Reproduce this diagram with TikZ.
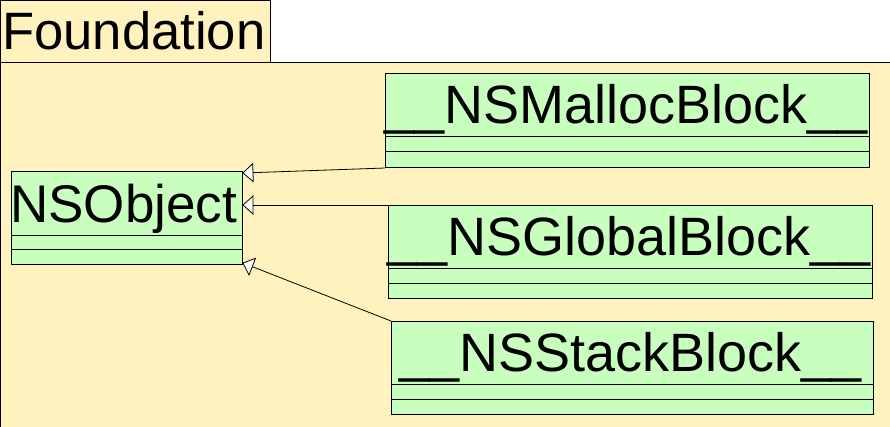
\documentclass[tikz,border=0pt]{standalone}
\usepackage{fontspec}
\setmainfont{Liberation Sans}
\usetikzlibrary{calc}
\definecolor{pkgfill}{RGB}{255,242,190}
\definecolor{clsfill}{RGB}{200,255,190}
\tikzset{
  pkg/.style={draw=black, fill=pkgfill, line width=1pt},
  cls/.style={draw=black, fill=clsfill, line width=1pt, rectangle, inner sep=0pt, anchor=north west},
  clsname/.style={anchor=base west, inner sep=0pt, font=\fontsize{54}{54}\selectfont},
  gen/.style={line width=0.8pt},
  genhead/.style={line width=0.8pt, fill=white, line join=miter},
  comp/.style={line width=1pt}
}
\newcommand{\genarrow}[2]{%
  \draw[gen] (#1) -- (#2);
  \filldraw[genhead] let \p1=($(#1)-(#2)$), \n1={atan2(\y1,\x1)} in
    (#2) -- ($(#2)+(\n1+42:13.45pt)$) -- ($(#2)+(\n1-42:13.45pt)$) -- cycle;
}
\begin{document}
\begin{tikzpicture}[x=1pt, y=-1pt]
\useasboundingbox (0,0) rectangle (890,426);
% package tab and body
\path[pkg] (0.5,0.5) rectangle (270,62);
\path[pkg] (0.5,62) rectangle (892,428);
\node[clsname, font=\fontsize{52.6}{52.6}\selectfont] (pkgname) at (2,49) {Foundation};
% classes
\node[cls, minimum width=231pt, minimum height=93pt] (obj) at (11,171) {};
\node[clsname, font=\fontsize{53}{53}\selectfont] (objname) at (10,222) {NSObject};
\draw[comp] (obj.west |- 0,235) -- (obj.east |- 0,235);
\draw[comp] (obj.west |- 0,249) -- (obj.east |- 0,249);

\node[cls, minimum width=484pt, minimum height=94pt] (malloc) at (385,73) {};
\node[clsname] (mallocname) at (384,123) {\_\_NSMallocBlock\_\_};
\draw[comp] (malloc.west |- 0,136) -- (malloc.east |- 0,136);
\draw[comp] (malloc.west |- 0,151) -- (malloc.east |- 0,151);

\node[cls, minimum width=484pt, minimum height=93pt] (global) at (388,205) {};
\node[clsname] (globalname) at (387,255) {\_\_NSGlobalBlock\_\_};
\draw[comp] (global.west |- 0,268) -- (global.east |- 0,268);
\draw[comp] (global.west |- 0,283) -- (global.east |- 0,283);

\node[cls, minimum width=482pt, minimum height=93pt] (stack) at (391,321) {};
\node[clsname] (stackname) at (399,371) {\_\_NSStackBlock\_\_};
\draw[comp] (stack.west |- 0,384) -- (stack.east |- 0,384);
\draw[comp] (stack.west |- 0,399) -- (stack.east |- 0,399);

% generalizations (arrow ends)
\coordinate (t1) at (obj.east |- 0,173);
\coordinate (t2) at (obj.east |- 0,205);
\coordinate (t3) at (obj.east |- 0,263);
\genarrow{malloc.south west}{t1}
\genarrow{global.north west}{t2}
\genarrow{stack.north west}{t3}
\end{tikzpicture}
\end{document}
